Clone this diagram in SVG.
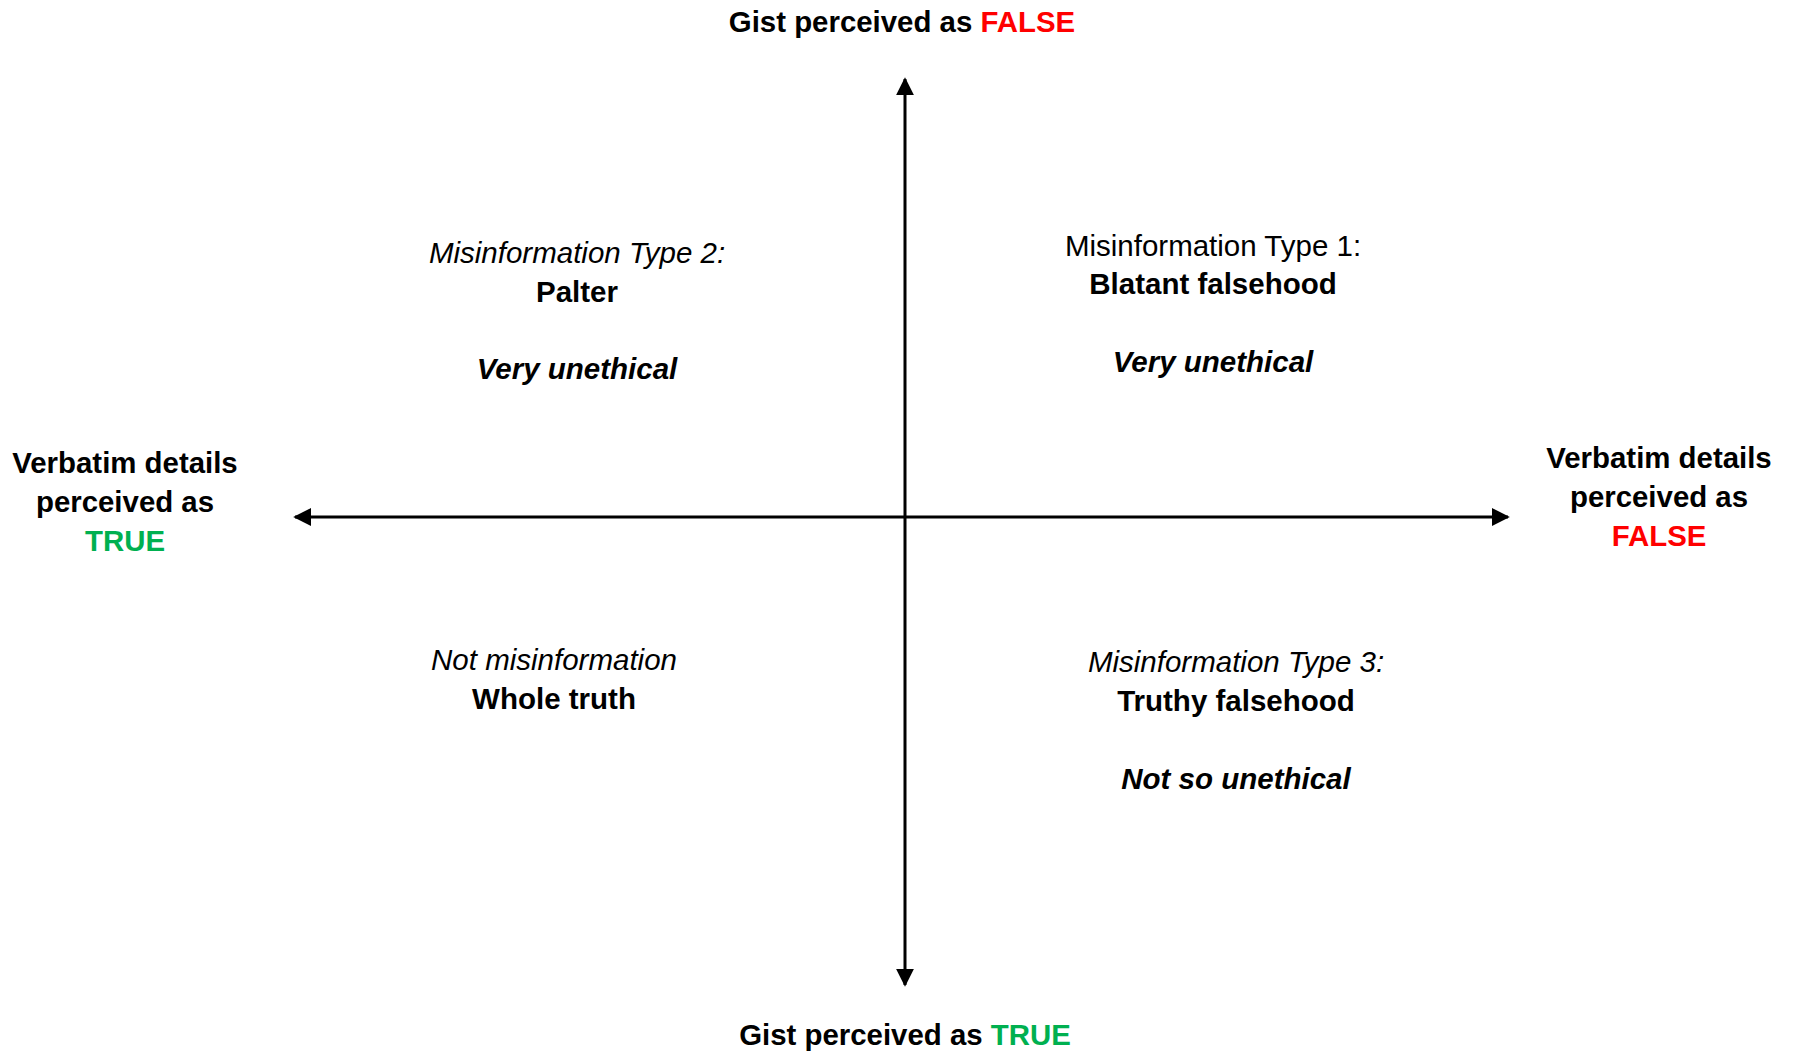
<svg xmlns="http://www.w3.org/2000/svg" width="1794" height="1052" viewBox="0 0 1794 1052">
<defs>
<style>
text{font-family:"Liberation Sans",Arial,sans-serif;fill:#000;text-anchor:middle}
.t{font-size:29.4px;font-weight:bold}
.q{font-size:29.5px}
.b{font-weight:bold}
.i{font-style:italic}
.red{fill:#FF0000}
.grn{fill:#00B050}
.ax{stroke:#000;stroke-width:3;fill:none}
</style>
<marker id="ah" viewBox="0 0 10 10" refX="9" refY="5" markerWidth="6" markerHeight="6" markerUnits="strokeWidth" orient="auto">
<path d="M0,0 L10,5 L0,10 z" fill="#000"/>
</marker>
</defs>
<rect width="1794" height="1052" fill="#fff"/>
<g id="connectors">
<line class="ax" x1="905" y1="516" x2="905" y2="79" marker-end="url(#ah)"/>
<line class="ax" x1="905" y1="516" x2="905" y2="985" marker-end="url(#ah)"/>
<line class="ax" x1="905" y1="517" x2="295" y2="517" marker-end="url(#ah)"/>
<line class="ax" x1="905" y1="517" x2="1508" y2="517" marker-end="url(#ah)"/>
</g>
<g id="top-label"><text class="t" x="902" y="32">Gist perceived as <tspan class="red">FALSE</tspan></text></g>
<g id="bottom-label"><text class="t" x="905" y="1045">Gist perceived as <tspan class="grn">TRUE</tspan></text></g>
<g id="left-label">
<text class="t" x="125" y="473">Verbatim details</text>
<text class="t" x="125" y="512">perceived as</text>
<text class="t grn" x="125" y="551">TRUE</text>
</g>
<g id="right-label">
<text class="t" x="1659" y="468">Verbatim details</text>
<text class="t" x="1659" y="507">perceived as</text>
<text class="t red" x="1659" y="546">FALSE</text>
</g>
<g id="q2">
<text class="q i" x="577" y="263">Misinformation Type 2:</text>
<text class="q b" x="577" y="302">Palter</text>
<text class="q b i" x="577" y="379">Very unethical</text>
</g>
<g id="q1">
<text class="q" x="1213" y="256">Misinformation Type 1:</text>
<text class="q b" x="1213" y="294">Blatant falsehood</text>
<text class="q b i" x="1213" y="372">Very unethical</text>
</g>
<g id="q4">
<text class="q i" x="554" y="670">Not misinformation</text>
<text class="q b" x="554" y="709">Whole truth</text>
</g>
<g id="q3">
<text class="q i" x="1236" y="672">Misinformation Type 3:</text>
<text class="q b" x="1236" y="711">Truthy falsehood</text>
<text class="q b i" x="1236" y="789">Not so unethical</text>
</g>
</svg>
